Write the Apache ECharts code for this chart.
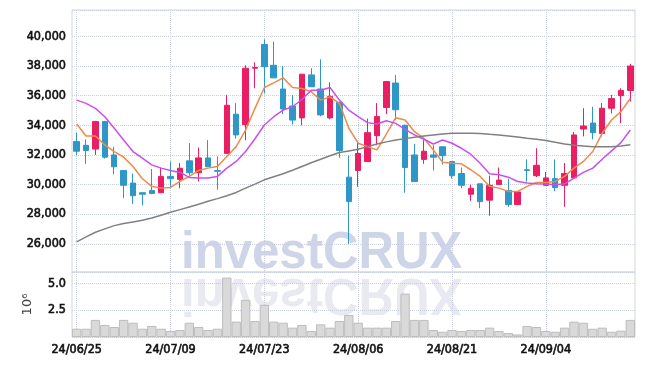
<!DOCTYPE html>
<html>
<head>
<meta charset="utf-8">
<script src="https://cdn.jsdelivr.net/npm/echarts@6/dist/echarts.min.js"></script>
<style>html,body{margin:0;padding:0;background:#fff}#chart{width:645px;height:366px}</style>
</head>
<body>
<div id="chart"></div>
<script>
var dates = ['24/06/25','24/06/26','24/06/27','24/06/28','24/07/01','24/07/02','24/07/03','24/07/04','24/07/05','24/07/08',
'24/07/09','24/07/10','24/07/11','24/07/12','24/07/15','24/07/16','24/07/17','24/07/18','24/07/19','24/07/22',
'24/07/23','24/07/24','24/07/25','24/07/26','24/07/29','24/07/30','24/07/31','24/08/01','24/08/02','24/08/05',
'24/08/06','24/08/07','24/08/08','24/08/09','24/08/12','24/08/13','24/08/14','24/08/16','24/08/19','24/08/20',
'24/08/21','24/08/22','24/08/23','24/08/26','24/08/27','24/08/28','24/08/29','24/08/30','24/09/02','24/09/03',
'24/09/04','24/09/05','24/09/06','24/09/09','24/09/10','24/09/11','24/09/12','24/09/13','24/09/19','24/09/20'];
var open  = [32900,32650,32400,34250,32000,30950,30100,29450,29600,29450, 30550,30350,31600,30800,31800,30950,32100,34750,34050,37850,
             39450,38050,36450,35300,34500,37400,36450,34500,35550,30500, 30950,31550,33300,35200,36850,34000,32000,31700,32000,32550,
             31550,30750,29350,30050,28950,30000,29600,28650,31000,30600, 29950,30400,29950,30450,33750,34150,33450,35150,36000,36350];
var close = [32250,32300,34250,31850,31200,29950,29250,29350,29400,30550, 30400,31100,30800,31800,31200,30900,35350,33350,37850,37900,
             37950,37200,35100,34350,37450,36600,34700,35950,32300,28850, 32100,33500,34600,36950,35050,31150,30200,32250,31850,31950,
             30600,29950,29750,28850,29950,30300,28650,29500,30950,31300, 30450,29800,30750,33350,33950,33500,35150,35800,36350,38000];
var low   = [32000,31400,32000,31750,30700,29100,28700,28600,29350,29450, 29750,29750,30600,30200,31200,29650,32100,33100,33000,36500,
             36150,37200,34750,34050,34000,36600,34600,34400,31800,26000, 29850,31550,32650,34750,34350,29450,30200,31400,30950,31350,
             30400,29750,28900,28400,27900,30000,28500,28650,30200,30500, 29900,29550,28500,30450,33250,33050,33250,34800,34150,35600];
var high  = [33500,33050,34300,34300,32550,30950,30750,29450,31050,31150, 31550,31450,32800,32500,33000,31900,36050,35500,38050,38250,
             39800,39650,38000,36050,37450,37850,38450,36900,35600,31950, 32850,34450,35500,37000,37400,34050,32750,33000,32650,32550,
             31550,31150,30000,30050,30600,31150,30400,29500,31700,32450, 30850,31700,31450,33550,35150,35250,35500,36050,36500,38150];
var maShort = [34090,33280,33280,32680,32230,31850,31220,30390,29880,29760, 29810,30210,30550,30950,31110,31220,31890,32560,33680,35140,
               36550,36860,37200,36550,36480,36260,35700,35920,35480,33800, 32790,32560,32340,33410,34510,34360,33570,33120,32340,31510,
               31440,31400,31000,30550,29880,29760,29540,29540,29880,30140, 30140,30210,30550,31110,31560,32230,33460,34360,34920,35810];
var maMid = [35700,35480,35140,34580,33800,33010,32230,31780,31330,31110, 30950,30820,30480,30440,30440,30550,31110,31560,32230,33090,
             34020,34580,35030,35250,35740,36370,36370,36550,35700,35030, 34580,34180,34090,34310,34130,33730,33350,33060,32740,33010,
             32790,32450,32050,31440,30730,30660,30500,30210,30100,30050, 30030,29990,30050,30440,30820,31110,31710,32270,32830,33680];
var maLong = [26130,26470,26780,27010,27230,27370,27480,27590,27750,27930, 28130,28310,28490,28670,28870,29050,29250,29470,29760,30030,
              30320,30530,30730,30970,31220,31470,31710,31940,32160,32270, 32380,32560,32740,32880,33010,33100,33190,33280,33350,33410,
              33460,33460,33460,33440,33390,33350,33280,33210,33120,33060, 32970,32850,32740,32650,32610,32560,32560,32560,32610,32680];
var volume = [0.77,0.77,1.59,1.12,0.93,1.59,1.33,0.77,1.03,0.77, 0.56,0.65,1.33,0.93,0.65,0.77,5.53,1.43,3.45,1.49,
              2.99,1.43,1.33,0.87,1.12,0.56,1.18,0.87,1.49,2.05, 1.33,0.87,0.87,0.87,1.49,4.04,1.59,1.59,0.65,0.49,
              0.65,0.56,0.65,0.65,0.87,0.56,0.37,0.24,1.03,0.93, 0.56,0.49,0.87,1.43,1.33,0.77,0.87,0.49,0.59,1.59];
var volumeUnit = '10\u2076';
var watermark = 'investCRUX';

var ohlc = dates.map(function (d, i) { return [open[i], close[i], low[i], high[i]]; });

var FONT = '"DejaVu Sans Condensed", "DejaVu Sans", sans-serif';
var gridColor = '#c9cde0';
var labelStyle = { fontFamily: FONT, fontSize: 12.5, color: '#111', textBorderColor: '#111', textBorderWidth: 0.6 };
var WM_FONT = 'bold 52px "Liberation Sans", Arial, sans-serif';

var chart = echarts.init(document.getElementById('chart'), null, { renderer: 'canvas' });
chart.setOption({
  animation: false,
  backgroundColor: '#fff',
  graphic: [
    { type: 'text', z: -5, x: 181, y: 280, scaleX: 0.945,
      style: { text: watermark, font: WM_FONT, fill: '#cfd5e8', verticalAlign: 'bottom' } },
    { type: 'text', z: -5, x: 181, y: 267, scaleX: 0.945, scaleY: -1,
      style: { text: watermark, font: WM_FONT, fill: '#e8e9f1', verticalAlign: 'bottom' } }
  ],
  grid: [
    { left: 72, right: 10, top: 10, height: 262, show: true, borderColor: '#d6d6d6', borderWidth: 1, backgroundColor: 'transparent' },
    { left: 72, right: 10, top: 272, height: 65, show: true, borderColor: '#d6d6d6', borderWidth: 1, backgroundColor: 'transparent' }
  ],
  xAxis: [
    { type: 'category', gridIndex: 0, data: dates, boundaryGap: true,
      axisLine: { show: false }, axisTick: { show: false }, axisLabel: { show: false },
      splitLine: { show: true, interval: 9, alignWithLabel: true, lineStyle: { type: 'dotted', color: gridColor } } },
    { type: 'category', gridIndex: 1, data: dates, boundaryGap: true,
      axisLine: { show: false }, axisTick: { show: false },
      axisLabel: Object.assign({ interval: 9, margin: 6 }, labelStyle),
      splitLine: { show: true, interval: 9, alignWithLabel: true, lineStyle: { type: 'dotted', color: gridColor } } }
  ],
  yAxis: [
    { type: 'value', gridIndex: 0, min: 24100, max: 41780, splitNumber: 8, scale: true,
      axisLine: { show: false }, axisTick: { show: false },
      axisLabel: Object.assign({ showMinLabel: false, showMaxLabel: false, margin: 6 }, labelStyle),
      splitLine: { show: true, lineStyle: { type: 'dotted', color: gridColor } } },
    { type: 'value', gridIndex: 1, min: 0, max: 6.05, interval: 2.5,
      name: volumeUnit, nameLocation: 'middle', nameRotate: 90, nameGap: 38,
      nameTextStyle: { fontFamily: '"DejaVu Sans", sans-serif', fontSize: 13, color: '#444' },
      axisLine: { show: false }, axisTick: { show: false },
      axisLabel: Object.assign({ showMinLabel: false, showMaxLabel: false, margin: 6,
        formatter: function (v) { return v.toFixed(1); } }, labelStyle),
      splitLine: { show: true, lineStyle: { type: 'dotted', color: gridColor } } }
  ],
  series: [
    { type: 'candlestick', xAxisIndex: 0, yAxisIndex: 0, data: ohlc, barWidth: 6,
      itemStyle: { color: '#e91e63', color0: '#2f96c8', borderColor: '#e91e63', borderColor0: '#2f96c8', borderWidth: 1 } },
    { type: 'line', xAxisIndex: 0, yAxisIndex: 0, data: maShort, symbol: 'none', lineStyle: { color: '#ef8a4c', width: 1.5 } },
    { type: 'line', xAxisIndex: 0, yAxisIndex: 0, data: maMid, symbol: 'none', lineStyle: { color: '#c94ff0', width: 1.5 } },
    { type: 'line', xAxisIndex: 0, yAxisIndex: 0, data: maLong, symbol: 'none', lineStyle: { color: '#808080', width: 1.5 } },
    { type: 'bar', xAxisIndex: 1, yAxisIndex: 1, data: volume, barCategoryGap: '0%',
      itemStyle: { color: '#d9d9d9', borderColor: '#bdbdbd', borderWidth: 1 } }
  ]
});
</script>
</body>
</html>
